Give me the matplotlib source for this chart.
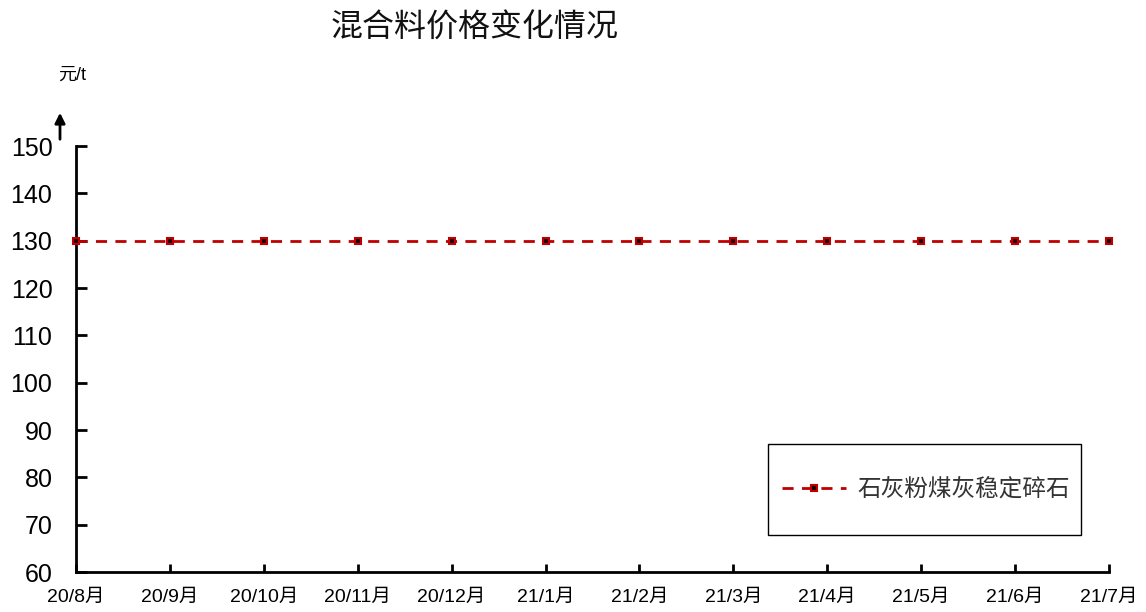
import matplotlib
matplotlib.use('Agg')
import matplotlib.pyplot as plt
from matplotlib.patches import Rectangle

months = ['20/8月', '20/9月', '20/10月', '20/11月', '20/12月', '21/1月',
          '21/2月', '21/3月', '21/4月', '21/5月', '21/6月', '21/7月']
prices = [130, 130, 130, 130, 130, 130, 130, 130, 130, 130, 130, 130]
series_name = '石灰粉煤灰稳定碎石'

plt.rcParams['font.family'] = ['Liberation Sans', 'Noto Sans CJK SC', 'DejaVu Sans']

W, H = 1146, 612
fig = plt.figure(figsize=(W / 100, H / 100), dpi=100)
ax = fig.add_axes([76 / W, 1 - 572 / H, (1109 - 76) / W, (572 - 146) / H])

x = list(range(len(months)))
ax.plot(x, prices, linestyle=(0, (4, 3)), color='#C00000', linewidth=2,
        marker='s', markersize=5, markerfacecolor='#1a0000',
        markeredgecolor='#C00000', markeredgewidth=1.5, label=series_name,
        clip_on=False, zorder=3)

ax.set_xlim(0, len(months) - 1)
ax.set_ylim(60, 150)
ax.set_yticks(range(60, 151, 10))
ax.set_xticks(x)
ax.set_xticklabels(months, fontsize=14)
ax.tick_params(axis='y', labelsize=18, direction='in', length=8, width=2, pad=17)
ax.tick_params(axis='x', direction='in', length=6, width=2, pad=12)
for s in ['top', 'right']:
    ax.spines[s].set_visible(False)
for s in ['left', 'bottom']:
    ax.spines[s].set_linewidth(2)

# title and unit
fig.text(475 / W, 1 - 28 / H, '混合料价格变化情况', fontsize=23,
         family=['Noto Sans CJK SC'], ha='center', va='center', color='#111111')
fig.text(72 / W, 1 - 75 / H, '元/t', fontsize=13, ha='center', va='center')
ax.annotate('', xy=(60 / W, 1 - 110 / H), xytext=(60 / W, 1 - 142 / H),
            xycoords='figure fraction', textcoords='figure fraction',
            arrowprops=dict(arrowstyle='-|>', color='black', lw=2,
                            mutation_scale=15))

# legend box
fig.patches.append(Rectangle((768 / W, 1 - 535 / H), (1081 - 768) / W, (535 - 444) / H,
                             transform=fig.transFigure, fill=False,
                             edgecolor='black', linewidth=1))
leg = ax.legend(loc='center', bbox_to_anchor=(926 / W, 1 - 490 / H),
                bbox_transform=fig.transFigure, frameon=False,
                prop={'family': ['Noto Sans CJK SC'], 'size': 17},
                handlelength=2.7, handletextpad=0.5)
for t in leg.get_texts():
    t.set_color('#333333')

fig.savefig('out.png', dpi=100)
